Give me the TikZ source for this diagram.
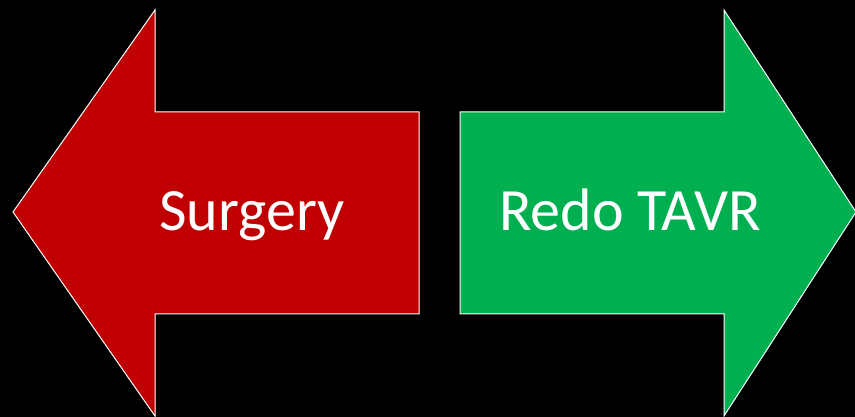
\documentclass[tikz,border=0pt]{standalone}
\usepackage{fontspec}
\setmainfont{Carlito}
\definecolor{arrred}{HTML}{C00000}
\definecolor{arrgreen}{HTML}{00B050}
\begin{document}
\begin{tikzpicture}[x=1pt,y=1pt,
  arrowshape/.style={draw=white,line width=1pt,line join=miter},
  label/.style={text=white,font=\fontsize{60}{62}\selectfont,anchor=base,inner sep=0pt}]
\fill[black] (0,0) rectangle (855,417);
\useasboundingbox (0,0) rectangle (855,417);
\path[arrowshape,fill=arrred] (13,205) -- (155,407) -- (155,305) -- (419,305) -- (419,103) -- (155,103) -- (155,1) -- cycle;
\path[arrowshape,fill=arrgreen] (460,305) -- (724,305) -- (724,407) -- (856,205) -- (724,1) -- (724,103) -- (460,103) -- cycle;
\node[label] (surgery) at (252,186) {Surgery};
\node[label] (redo) at (630,186) {Redo TAVR};
\end{tikzpicture}
\end{document}
